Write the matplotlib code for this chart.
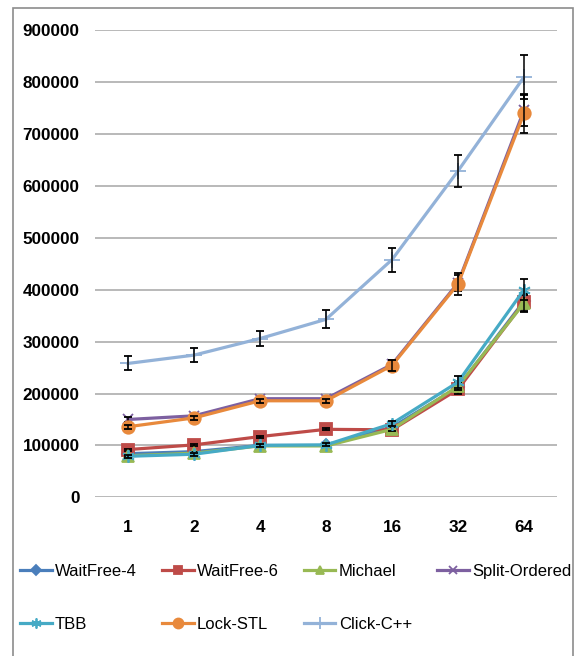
import matplotlib
matplotlib.use('Agg')
import matplotlib.pyplot as plt
from matplotlib.patches import Rectangle
import numpy as np

# thread counts on the x axis
thread_labels = ['1', '2', '4', '8', '16', '32', '64']

# throughput per implementation
waitfree4 = [84000, 88000, 100000, 100000, 135000, 212000, 378000]
waitfree6 = [92000, 101000, 117000, 131000, 130000, 208000, 376000]
michael = [80000, 85000, 99000, 99000, 131000, 214000, 374000]
split_ordered = [150000, 157000, 190000, 190000, 256000, 413000, 746000]
tbb = [79000, 83000, 100000, 101000, 142000, 222000, 400000]
lock_stl = [136000, 153000, 186000, 186000, 254000, 411000, 740000]
click_cpp = [258000, 274000, 306000, 343000, 458000, 629000, 810000]

# standard deviation per point
err_waitfree4 = [2000, 2000, 2000, 2000, 4000, 8000, 16000]
err_waitfree6 = [2000, 2000, 2000, 2000, 4000, 8000, 16000]
err_michael = [2000, 2000, 2000, 2000, 4000, 8000, 16000]
err_split_ordered = [5000, 4000, 4000, 4000, 8000, 15000, 30000]
err_tbb = [3000, 3000, 3000, 3000, 5000, 11000, 20000]
err_lock_stl = [4000, 4000, 4000, 4000, 10000, 21000, 37000]
err_click_cpp = [13500, 13000, 14500, 17500, 23000, 31000, 42000]

plt.rcParams['font.family'] = ['Liberation Sans', 'DejaVu Sans']

series_lst = [waitfree4, waitfree6, michael, split_ordered, tbb, lock_stl, click_cpp]
err_lst = [err_waitfree4, err_waitfree6, err_michael, err_split_ordered,
           err_tbb, err_lock_stl, err_click_cpp]
label_lst = ['WaitFree-4', 'WaitFree-6', 'Michael', 'Split-Ordered', 'TBB', 'Lock-STL', 'Click-C++']
color_lst = ['#4A7EBB', '#BE4B48', '#98B954', '#7D60A0', '#46AAC5', '#E8893C', '#93B2D8']
marker_lst = ['D', 's', '^', 'x', (6, 2, 0), 'o', '+']
msize_lst = [6, 8, 8, 7, 9, 9, 11]

fig = plt.figure(figsize=(5.78, 6.56), dpi=100)
ax = fig.add_axes([95 / 578., 1 - 497.3 / 656., 462 / 578., 467 / 656.])

x = np.arange(len(thread_labels))
handles = []
for idx, vals in enumerate(series_lst):
    h, = ax.plot(x, vals, color=color_lst[idx], lw=2.3, marker=marker_lst[idx],
                 markersize=msize_lst[idx], markeredgewidth=1.3, label=label_lst[idx],
                 zorder=3 + idx)
    handles.append(h)
    ax.errorbar(x, vals, yerr=err_lst[idx], fmt='none', ecolor='black',
                elinewidth=1.1, capsize=3, capthick=1.3, zorder=3 + idx)

ax.set_xlim(-0.5, len(thread_labels) - 0.5)
ax.set_ylim(0, 900000)
ax.set_yticks(np.arange(0, 900001, 100000))
ax.set_yticklabels([str(v) for v in range(0, 900001, 100000)])
ax.set_xticks(x)
ax.set_xticklabels(thread_labels)
ax.tick_params(axis='y', length=0, pad=11, labelsize=12.3)
ax.tick_params(axis='x', length=0, pad=16, labelsize=12.3)
for lab in ax.get_xticklabels() + ax.get_yticklabels():
    lab.set_fontweight('bold')
ax.yaxis.grid(True, color='#A6A6A6', lw=1.1)
ax.set_axisbelow(True)
for sp in ax.spines.values():
    sp.set_visible(False)

# chart area frame
fig.patches.append(Rectangle((13 / 578., -0.05), 560 / 578., 1.05 - 8 / 656.,
                             transform=fig.transFigure, fill=False,
                             edgecolor='#8C8C8C', lw=1.2))

# legend filled column by column, so order entries to read row-wise
leg_order = [0, 4, 1, 5, 2, 6, 3]
fig.legend([handles[i] for i in leg_order], [label_lst[i] for i in leg_order],
           loc='upper left', bbox_to_anchor=(20 / 578., 1 - 564 / 656.), ncol=4,
           frameon=False, fontsize=12, handlelength=1.9, handletextpad=0.2,
           columnspacing=1.5, labelspacing=2.3, borderaxespad=0, borderpad=0,
           markerscale=0.8)

fig.savefig('out.png', dpi=100)
